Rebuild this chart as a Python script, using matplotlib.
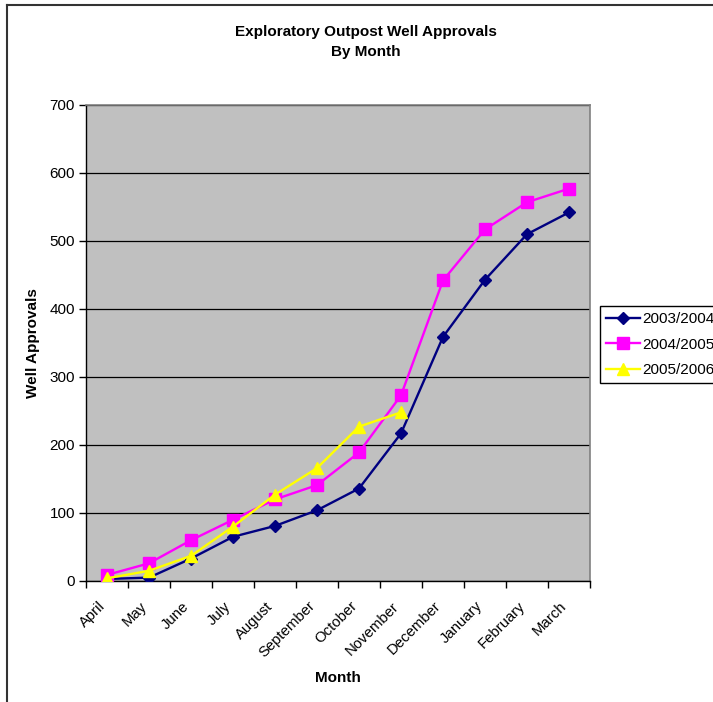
import matplotlib
matplotlib.use("Agg")
import matplotlib.pyplot as plt
from matplotlib.lines import Line2D

plt.rcParams["font.family"] = ["Liberation Sans", "DejaVu Sans"]

months = ["April", "May", "June", "July", "August", "September", "October",
          "November", "December", "January", "February", "March"]
fy_2003 = [3, 5, 33, 65, 81, 104, 136, 217, 359, 443, 510, 542]
fy_2004 = [9, 26, 60, 90, 120, 141, 189, 273, 442, 517, 557, 577]
fy_2005 = [4, 15, 37, 80, 127, 166, 227, 248]
series_names = ["2003/2004", "2004/2005", "2005/2006"]
y_ticks = [0, 100, 200, 300, 400, 500, 600, 700]

FS = 11
LABEL_NUDGE = 0.22  # rotated month labels end a little left of the category centre

fig = plt.figure(figsize=(7.13, 7.02), dpi=100)
ax = fig.add_axes([86/713, 1 - 581/702, 504/713, 476/702])
ax.set_facecolor("#C0C0C0")

x = list(range(len(months)))
ax.plot(x, fy_2003, color="#000080", lw=1.7, marker="D", ms=6,
        mec="#000080", mfc="#000080", label=series_names[0], zorder=3)
ax.plot(x, fy_2004, color="#FF00FF", lw=1.7, marker="s", ms=8,
        mec="#FF00FF", mfc="#FF00FF", label=series_names[1], zorder=3)
ax.plot(x[:len(fy_2005)], fy_2005, color="#FFFF00", lw=1.7, marker="^", ms=9,
        mec="#FFFF00", mfc="#FFFF00", label=series_names[2], zorder=4)

ax.set_xlim(-0.5, len(months) - 0.5)
ax.set_ylim(0, 700)
ax.set_yticks(y_ticks)
ax.yaxis.grid(True, color="black", lw=0.9)
ax.set_axisbelow(True)

# categories sit between tick marks, Excel-style
ax.set_xticks([i - 0.5 for i in range(len(months) + 1)])
ax.set_xticklabels([])
ax.set_xticks([i - LABEL_NUDGE for i in x], minor=True)
ax.set_xticklabels(months, minor=True, rotation=45, ha="right",
                   rotation_mode="anchor", fontsize=10.7)
ax.tick_params(axis="x", which="minor", length=0, pad=13)
ax.tick_params(axis="x", which="major", length=5, width=1, direction="out")
ax.tick_params(axis="y", length=5, width=1, direction="out", labelsize=FS, pad=3)

for s in ["left", "bottom"]:
    ax.spines[s].set_color("black")
    ax.spines[s].set_linewidth(1)
for s in ["top", "right"]:
    ax.spines[s].set_color("#808080")
    ax.spines[s].set_linewidth(1.2)

ax.set_xlabel("Month", fontsize=FS, fontweight="bold", va="center")
ax.xaxis.set_label_coords(0.5, (581 - 678) / 476)
ax.set_ylabel("Well Approvals", fontsize=FS, fontweight="bold", va="center")
ax.yaxis.set_label_coords((33 - 86) / 504, 0.5)
fig.text(366/713, 1 - 42/702, "Exploratory Outpost Well Approvals\nBy Month",
         ha="center", va="center", fontsize=FS, fontweight="bold", linespacing=1.5)

leg = ax.legend(loc="upper left", bbox_to_anchor=(600/713, 1 - 306/702),
                bbox_transform=fig.transFigure, fontsize=FS, frameon=True,
                fancybox=False, edgecolor="black", framealpha=1,
                handlelength=2.2, borderpad=0.4, labelspacing=0.75,
                handletextpad=0.15, borderaxespad=0)
leg.get_frame().set_linewidth(1)

# outer chart border (top and left visible)
fig.add_artist(Line2D([7/713, 1], [1 - 5/702, 1 - 5/702], color="#333333", lw=1.5))
fig.add_artist(Line2D([7/713, 7/713], [0, 1 - 5/702], color="#333333", lw=1.5))

fig.savefig("out.png", dpi=100)
